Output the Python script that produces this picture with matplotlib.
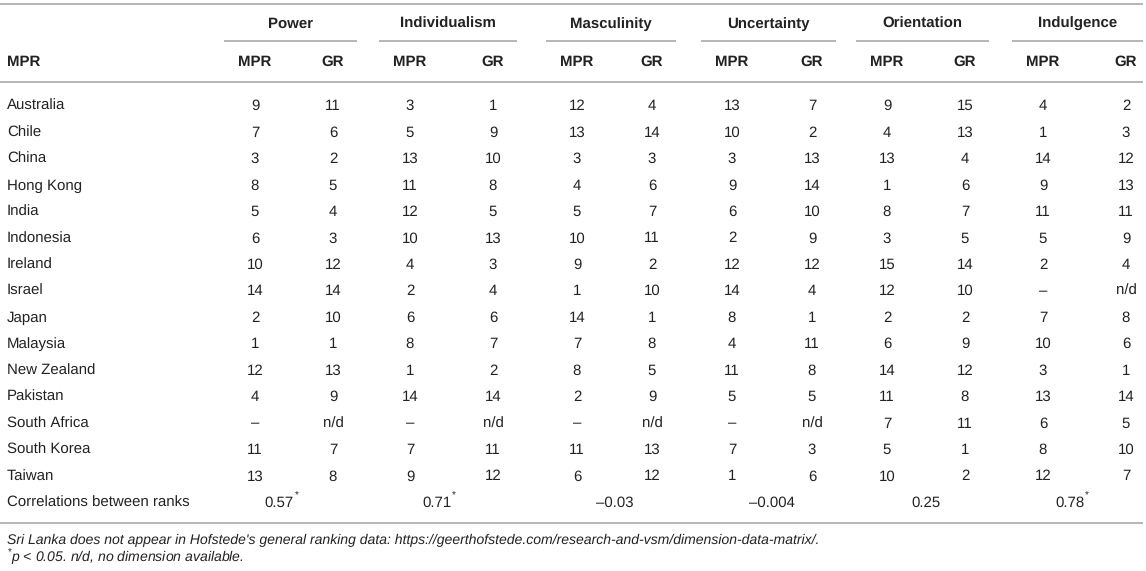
import matplotlib
matplotlib.use("Agg")
import matplotlib.pyplot as plt

plt.rcParams['font.family'] = ['Liberation Sans', 'DejaVu Sans']
plt.rcParams['mathtext.fontset'] = 'custom'
plt.rcParams['mathtext.rm'] = 'Liberation Sans'
plt.rcParams['mathtext.it'] = 'Liberation Sans:italic'
plt.rcParams['text.hinting'] = 'no_hinting'
plt.rcParams['text.hinting_factor'] = 1

dimensions = ["Power", "Individualism", "Masculinity", "Uncertainty", "Orientation", "Indulgence"]
sub_headers = ["MPR", "GR"]
row_header = "MPR"
countries = ["Australia", "Chile", "China", "Hong Kong", "India", "Indonesia", "Ireland",
             "Israel", "Japan", "Malaysia", "New Zealand", "Pakistan", "South Africa",
             "South Korea", "Taiwan"]
power = [("9", "11"), ("7", "6"), ("3", "2"), ("8", "5"), ("5", "4"), ("6", "3"), ("10", "12"),
         ("14", "14"), ("2", "10"), ("1", "1"), ("12", "13"), ("4", "9"), ("–", "n/d"),
         ("11", "7"), ("13", "8")]
individualism = [("3", "1"), ("5", "9"), ("13", "10"), ("11", "8"), ("12", "5"), ("10", "13"),
                 ("4", "3"), ("2", "4"), ("6", "6"), ("8", "7"), ("1", "2"), ("14", "14"),
                 ("–", "n/d"), ("7", "11"), ("9", "12")]
masculinity = [("12", "4"), ("13", "14"), ("3", "3"), ("4", "6"), ("5", "7"), ("10", "11"),
               ("9", "2"), ("1", "10"), ("14", "1"), ("7", "8"), ("8", "5"), ("2", "9"),
               ("–", "n/d"), ("11", "13"), ("6", "12")]
uncertainty = [("13", "7"), ("10", "2"), ("3", "13"), ("9", "14"), ("6", "10"), ("2", "9"),
               ("12", "12"), ("14", "4"), ("8", "1"), ("4", "11"), ("11", "8"), ("5", "5"),
               ("–", "n/d"), ("7", "3"), ("1", "6")]
orientation = [("9", "15"), ("4", "13"), ("13", "4"), ("1", "6"), ("8", "7"), ("3", "5"),
               ("15", "14"), ("12", "10"), ("2", "2"), ("6", "9"), ("14", "12"), ("11", "8"),
               ("7", "11"), ("5", "1"), ("10", "2")]
indulgence = [("4", "2"), ("1", "3"), ("14", "12"), ("9", "13"), ("11", "11"), ("5", "9"),
              ("2", "4"), ("–", "n/d"), ("7", "8"), ("10", "6"), ("3", "1"), ("13", "14"),
              ("6", "5"), ("8", "10"), ("12", "7")]
corr_label = "Correlations between ranks"
correlations = ["0.57", "0.71", "–0.03", "–0.004", "0.25", "0.78"]
significant = [True, True, False, False, False, True]
footnote1 = "Sri Lanka does not appear in Hofstede's general ranking data: https://geerthofstede.com/research-and-vsm/dimension-data-matrix/."
footnote2 = "p < 0.05. n/d, no dimension available."

columns = [power, individualism, masculinity, uncertainty, orientation, indulgence]

W, H = 1146, 571
fig = plt.figure(figsize=(W / 100, H / 100), dpi=100)
ax = fig.add_axes([0, 0, 1, 1])
ax.set_xlim(0, W)
ax.set_ylim(H, 0)
ax.axis('off')

txt = '#222222'
rule = '#b0b0b0'
fs = 10.6
bl = 5.2  # baseline offset from visual centre of a row

mpr_x = [255, 410, 577, 732, 887, 1043]
gr_x = [333, 493, 652, 812, 965, 1126]
left_x = 7


def put(x, y, s, ha='center', **kw):
    kw.setdefault('fontsize', fs)
    ax.text(x, y + bl, s, ha=ha, va='baseline', color=txt, **kw)


# rules
for yr in (4, 82, 523):
    ax.plot([0, 1143], [yr, yr], color=rule, lw=1.3, solid_capstyle='butt')

# group headers
for i, d in enumerate(dimensions):
    x0 = mpr_x[i] - 31
    x1 = min(gr_x[i] + 24, 1143)
    ax.plot([x0, x1], [41, 41], color=rule, lw=1.3, solid_capstyle='butt')
    put((x0 + x1) / 2, 23, d, fontweight='bold')
    put(mpr_x[i], 61, sub_headers[0], fontweight='bold')
    put(gr_x[i], 61, sub_headers[1], fontweight='bold')

put(left_x, 61, row_header, ha='left', fontweight='bold')

# body rows
y0 = 105
dy = 26.45
for r, c in enumerate(countries):
    y = y0 + r * dy
    put(left_x, y, c, ha='left')
    for i, col in enumerate(columns):
        m, g = col[r]
        put(mpr_x[i], y, m)
        put(gr_x[i], y, g)

yc = y0 + len(countries) * dy
put(left_x, yc, corr_label, ha='left')
for i, v in enumerate(correlations):
    cx = (mpr_x[i] + gr_x[i]) / 2
    if significant[i]:
        put(cx, yc, v, ha='right')
        ax.text(cx + 0.5, yc - 3.5, '*', ha='left', va='baseline', fontsize=7, color=txt)
    else:
        put(cx, yc, v)

put(left_x, 539, footnote1, ha='left', fontsize=10, style='italic')
put(left_x, 556.5, r'$^{*}$' + footnote2, ha='left', fontsize=10, style='italic')

fig.savefig('out.png', dpi=100)
